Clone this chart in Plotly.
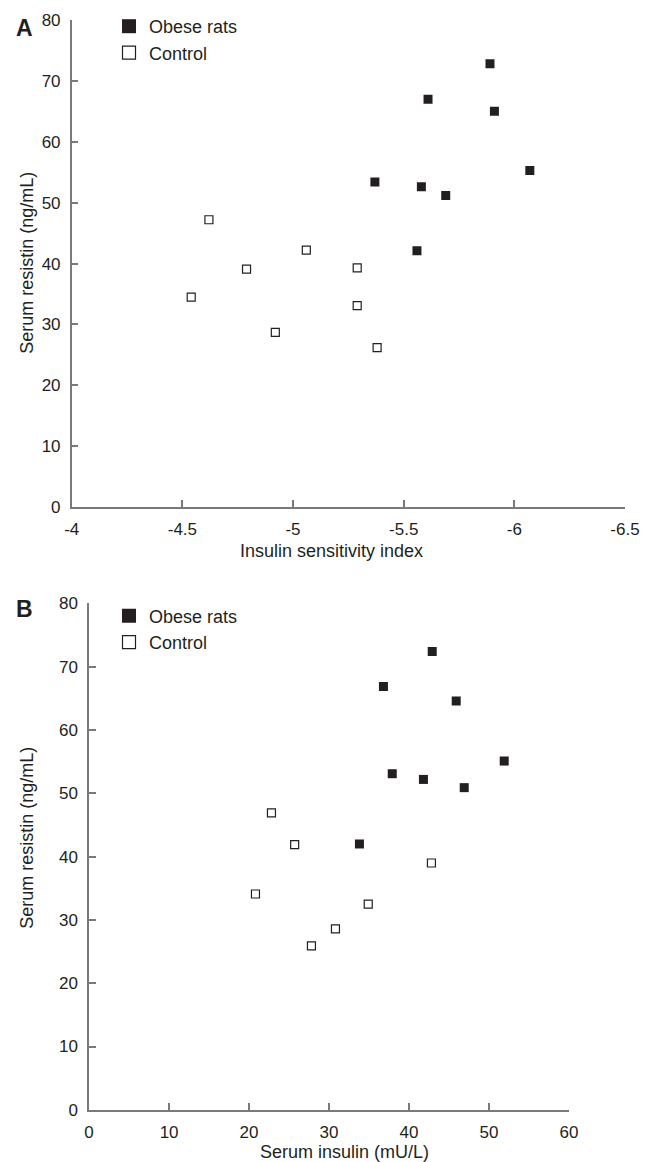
import plotly.graph_objects as go

# ---- data ----
isi_obese = [-5.89, -5.61, -5.91, -6.07, -5.37, -5.58, -5.69, -5.56]
res_obese_a = [72.8, 67.0, 65.0, 55.3, 53.4, 52.6, 51.2, 42.1]
isi_ctrl = [-4.62, -5.06, -4.79, -5.29, -4.54, -5.29, -4.92, -5.38]
res_ctrl_a = [47.2, 42.2, 39.1, 39.3, 34.5, 33.1, 28.7, 26.2]

ins_obese = [42.9, 36.8, 45.9, 51.9, 37.9, 41.8, 46.9, 33.8]
res_obese_b = [72.4, 66.9, 64.6, 55.1, 53.1, 52.2, 50.9, 42.0]
ins_ctrl = [22.8, 25.7, 42.8, 20.8, 34.9, 30.8, 27.8]
res_ctrl_b = [46.9, 41.9, 39.0, 34.1, 32.5, 28.6, 25.9]

isi_ticks = [-4, -4.5, -5, -5.5, -6, -6.5]
isi_ticktext = ["-4", "-4.5", "-5", "-5.5", "-6", "-6.5"]
ins_ticks = [0, 10, 20, 30, 40, 50, 60]
res_ticks = [0, 10, 20, 30, 40, 50, 60, 70, 80]

# the page body has an 8px margin, so the figure is sized to fit the window
OFF = 8
W, H = 649 - OFF, 1162 - OFF
TXT = "#231f20"
AX = "#7a7a7a"
FONT = "Liberation Sans, Arial, sans-serif"

def px(x):
    return (x - OFF) / W

def py(y):
    return 1 - (y - OFF) / H

fig = go.Figure()

obese_marker = dict(symbol="square", size=9, color=TXT, line=dict(width=0))
ctrl_marker = dict(symbol="square", size=8, color="white", line=dict(width=1.2, color=TXT))

fig.add_trace(go.Scatter(x=isi_obese, y=res_obese_a, mode="markers", marker=obese_marker,
                         xaxis="x", yaxis="y", showlegend=False))
fig.add_trace(go.Scatter(x=isi_ctrl, y=res_ctrl_a, mode="markers", marker=ctrl_marker,
                         xaxis="x", yaxis="y", showlegend=False))
fig.add_trace(go.Scatter(x=ins_obese, y=res_obese_b, mode="markers", marker=obese_marker,
                         xaxis="x2", yaxis="y2", showlegend=False))
fig.add_trace(go.Scatter(x=ins_ctrl, y=res_ctrl_b, mode="markers", marker=ctrl_marker,
                         xaxis="x2", yaxis="y2", showlegend=False))

leg_obese = dict(symbol="square", size=14, color=TXT, line=dict(width=0))
leg_ctrl = dict(symbol="square", size=13, color="white", line=dict(width=1.2, color=TXT))
for lg, xa, ya in (("legend", "x", "y"), ("legend2", "x2", "y2")):
    fig.add_trace(go.Scatter(x=[None], y=[None], mode="markers", marker=leg_obese,
                             name="Obese rats", legend=lg, xaxis=xa, yaxis=ya))
    fig.add_trace(go.Scatter(x=[None], y=[None], mode="markers", marker=leg_ctrl,
                             name="Control", legend=lg, xaxis=xa, yaxis=ya))

axis_common = dict(showline=True, linecolor=AX, linewidth=1.5, ticks="inside", ticklen=7,
                   tickwidth=1.5, tickcolor=AX, showgrid=False, zeroline=False,
                   automargin=False,
                   tickfont=dict(family=FONT, size=17, color=TXT))

fig.update_layout(
    width=W, height=H,
    margin=dict(l=0, r=0, t=0, b=0),
    paper_bgcolor="white", plot_bgcolor="white",
    font=dict(family=FONT, color=TXT),
    xaxis=dict(domain=[px(71.7), px(625)], range=[-4, -6.5], tickmode="array",
               tickvals=isi_ticks, ticktext=isi_ticktext, anchor="y",
               ticklabelstandoff=6, **axis_common),
    yaxis=dict(domain=[py(505.5), py(17)], range=[0, 80], tickmode="array",
               tickvals=res_ticks, anchor="x", ticklabelstandoff=6, **axis_common),
    xaxis2=dict(domain=[px(89.1), px(569)], range=[0, 60], tickmode="array",
                tickvals=ins_ticks, anchor="y2", ticklabelstandoff=6, **axis_common),
    yaxis2=dict(domain=[py(1109.7), py(602)], range=[0, 80], tickmode="array",
                tickvals=res_ticks, anchor="x2", ticklabelstandoff=6, **axis_common),
    legend=dict(x=px(109), y=py(5), xanchor="left", yanchor="top",
                font=dict(family=FONT, size=18, color=TXT), bgcolor="rgba(0,0,0,0)",
                tracegroupgap=0),
    legend2=dict(x=px(109), y=py(596), xanchor="left", yanchor="top",
                 font=dict(family=FONT, size=18, color=TXT), bgcolor="rgba(0,0,0,0)",
                 tracegroupgap=0),
)

ann = []
def label(text, x, y, size=18, bold=False, angle=0):
    ann.append(dict(text=("<b>%s</b>" % text) if bold else text, x=px(x), y=py(y),
                    xref="paper", yref="paper", xanchor="center", yanchor="middle",
                    showarrow=False, textangle=angle,
                    font=dict(family=FONT, size=size, color=TXT)))

label("A", 24.5, 25, size=23, bold=True)
label("B", 24.5, 607.5, size=23, bold=True)
label("Insulin sensitivity index", 331, 549)
label("Serum insulin (mU/L)", 344, 1152)
label("Serum resistin (ng/mL)", 27, 260.5, angle=-90)
label("Serum resistin (ng/mL)", 27, 837, angle=-90)
fig.update_layout(annotations=ann)

fig.write_html("out.html")
